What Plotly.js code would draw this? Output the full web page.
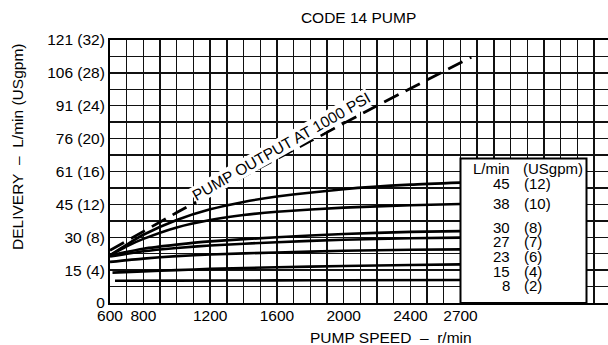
<!DOCTYPE html>
<html>
<head>
<meta charset="utf-8">
<script src="https://cdn.plot.ly/plotly-3.0.1.min.js"></script>
<style>html,body{margin:0;padding:0;background:#fff;}#chart{width:608px;height:345px;}</style>
</head>
<body>
<div id="chart"></div>
<script>
// ---- data (x: pump speed r/min, y: delivery USgpm) ----
const speedTickLabels = [600, 800, 1200, 1600, 2000, 2400, 2700];
const deliveryTickGpm = [0, 4, 8, 12, 16, 20, 24, 28, 32];
const deliveryTickText = ['0', '15 (4)', '30 (8)', '45 (12)', '61 (16)', '76 (20)', '91 (24)', '106 (28)', '121 (32)'];

const pumpSpeed = [600, 1000, 1400, 1800, 2200, 2765];
const pumpOutput = [6.4, 11.0, 15.4, 19.7, 24.0, 29.9];

const speed12 = [600, 700, 800, 1000, 1200, 1400, 1600, 2000, 2400, 2700];
const flow12  = [5.8, 7.1, 8.3, 10.1, 11.4, 12.3, 12.95, 13.85, 14.4, 14.65];
const speed10 = [600, 700, 800, 1000, 1200, 1400, 1600, 2000, 2400, 2700];
const flow10  = [5.8, 6.9, 7.8, 9.2, 10.1, 10.7, 11.1, 11.6, 11.9, 12.05];
const speed8  = [600, 800, 1000, 1200, 1600, 2000, 2400, 2700];
const flow8   = [5.8, 6.6, 7.1, 7.5, 8.0, 8.4, 8.65, 8.75];
const speed7  = [600, 800, 1000, 1200, 1600, 2000, 2400, 2700];
const flow7   = [5.65, 6.3, 6.7, 7.0, 7.4, 7.7, 7.88, 7.95];
const speed6  = [600, 800, 1000, 1200, 1600, 2000, 2400, 2700];
const flow6   = [5.0, 5.4, 5.7, 5.9, 6.15, 6.35, 6.47, 6.53];
const speed4  = [615, 800, 1000, 1200, 1600, 2000, 2400, 2700];
const flow4   = [3.7, 3.85, 4.0, 4.15, 4.35, 4.5, 4.62, 4.7];
const speed2  = [630, 1000, 1600, 2000, 2700];
const flow2   = [2.7, 2.72, 2.75, 2.77, 2.8];

const settingLpm  = ['45', '38', '30', '27', '23', '15', '8'];
const settingGpm  = ['(12)', '(10)', '(8)', '(7)', '(6)', '(4)', '(2)'];

// ---- layout helpers ----
const FONT = 'Liberation Sans, Arial, Helvetica, sans-serif';
const FS = 15.5;
const H = 345, MT = 40, MB = 42, ML = 110, W = 608;
const plotH = H - MT - MB, plotW = W - ML;
const py = p => (H - MB - p) / plotH;   // pixel y -> paper
const px = p => (p - ML) / plotW;       // pixel x -> paper

const gridX = [];
for (let v = 600; v <= 3500; v += 100) gridX.push(v);
const gridY = [];
for (let v = 0; v <= 32; v += 2) gridY.push(v);

const solid = (x, y) => ({x, y, type: 'scatter', mode: 'lines',
  line: {color: '#000', width: 2.6, shape: 'spline', smoothing: 0.6},
  hoverinfo: 'skip', showlegend: false});

const traces = [
  solid(speed12, flow12), solid(speed10, flow10), solid(speed8, flow8),
  solid(speed7, flow7), solid(speed6, flow6), solid(speed4, flow4), solid(speed2, flow2),
  {x: pumpSpeed, y: pumpOutput, type: 'scatter', mode: 'lines',
   line: {color: '#000', width: 2.8, dash: '16px,8px', shape: 'spline', smoothing: 0.6},
   hoverinfo: 'skip', showlegend: false}
];

const legendRowsY = [183, 203, 227.3, 241.7, 256, 271.7, 285.5];
const LFS = 15;
const annotations = [];
annotations.push({xref: 'paper', yref: 'paper', x: px(511.5), y: py(168.5), xanchor: 'right', yanchor: 'middle',
  text: 'L/min', showarrow: false, font: {family: FONT, size: LFS, color: '#000'}});
annotations.push({xref: 'paper', yref: 'paper', x: px(520.5), y: py(168.5), xanchor: 'left', yanchor: 'middle',
  text: '(USgpm)', showarrow: false, font: {family: FONT, size: LFS, color: '#000'}});
settingLpm.forEach((t, i) => {
  annotations.push({xref: 'paper', yref: 'paper', x: px(511.5), y: py(legendRowsY[i]), xanchor: 'right', yanchor: 'middle',
    text: t, showarrow: false, font: {family: FONT, size: LFS, color: '#000'}});
  annotations.push({xref: 'paper', yref: 'paper', x: px(522), y: py(legendRowsY[i]), xanchor: 'left', yanchor: 'middle',
    text: settingGpm[i], showarrow: false, font: {family: FONT, size: LFS, color: '#000'}});
});
annotations.push({xref: 'paper', yref: 'paper', x: px(281), y: py(146), xanchor: 'center', yanchor: 'middle',
  text: 'PUMP OUTPUT AT 1000 PSI', textangle: -29.7, showarrow: false, bgcolor: '#fff', borderpad: 0,
  font: {family: FONT, size: FS, color: '#000'}});
annotations.push({xref: 'paper', yref: 'paper', x: px(390.7), y: py(337), xanchor: 'center', yanchor: 'middle',
  text: 'PUMP SPEED\u00a0\u00a0–\u00a0\u00a0r/min', showarrow: false, font: {family: FONT, size: FS, color: '#000'}});
annotations.push({xref: 'paper', yref: 'paper', x: px(17.5), y: py(147.5), xanchor: 'center', yanchor: 'middle',
  text: 'DELIVERY\u00a0\u00a0–\u00a0\u00a0L/min (USgpm)', textangle: -90, showarrow: false, font: {family: FONT, size: FS, color: '#000'}});

const layout = {
  width: W, height: H,
  margin: {l: ML, r: 0, t: MT, b: MB, pad: 0},
  paper_bgcolor: '#fff', plot_bgcolor: '#fff',
  font: {family: FONT, size: FS, color: '#000'},
  title: {text: 'CODE 14 PUMP', x: px(358.6), xanchor: 'center', xref: 'paper', y: 1 - 18 / H, yanchor: 'middle',
          font: {family: FONT, size: FS, color: '#000'}},
  xaxis: {
    range: [600, 600 + plotW / 0.1669], tickmode: 'array',
    tickvals: gridX, ticktext: gridX.map(v => speedTickLabels.includes(v) ? String(v) : ''),
    showgrid: true, gridcolor: '#111', gridwidth: 1.4, zeroline: false,
    showline: true, linecolor: '#000', linewidth: 2, mirror: true, ticks: '',
    tickfont: {family: FONT, size: FS, color: '#000'}, ticklabelstandoff: -3
  },
  yaxis: {
    range: [0, 32], tickmode: 'array',
    tickvals: gridY, ticktext: gridY.map(v => { const i = deliveryTickGpm.indexOf(v); return i >= 0 ? deliveryTickText[i] : ''; }),
    showgrid: true, gridcolor: '#111', gridwidth: 1.4, zeroline: false,
    showline: true, linecolor: '#000', linewidth: 2, ticks: '',
    tickfont: {family: FONT, size: FS, color: '#000'}, ticklabelstandoff: 0
  },
  shapes: [{type: 'rect', xref: 'x', yref: 'y', x0: 2700, x1: 3455, y0: 0, y1: 17.57,
            fillcolor: '#fff', line: {color: '#000', width: 2}, layer: 'above'}],
  annotations: annotations,
  showlegend: false
};

Plotly.newPlot('chart', traces, layout, {staticPlot: true, displayModeBar: false});
</script>
</body>
</html>
